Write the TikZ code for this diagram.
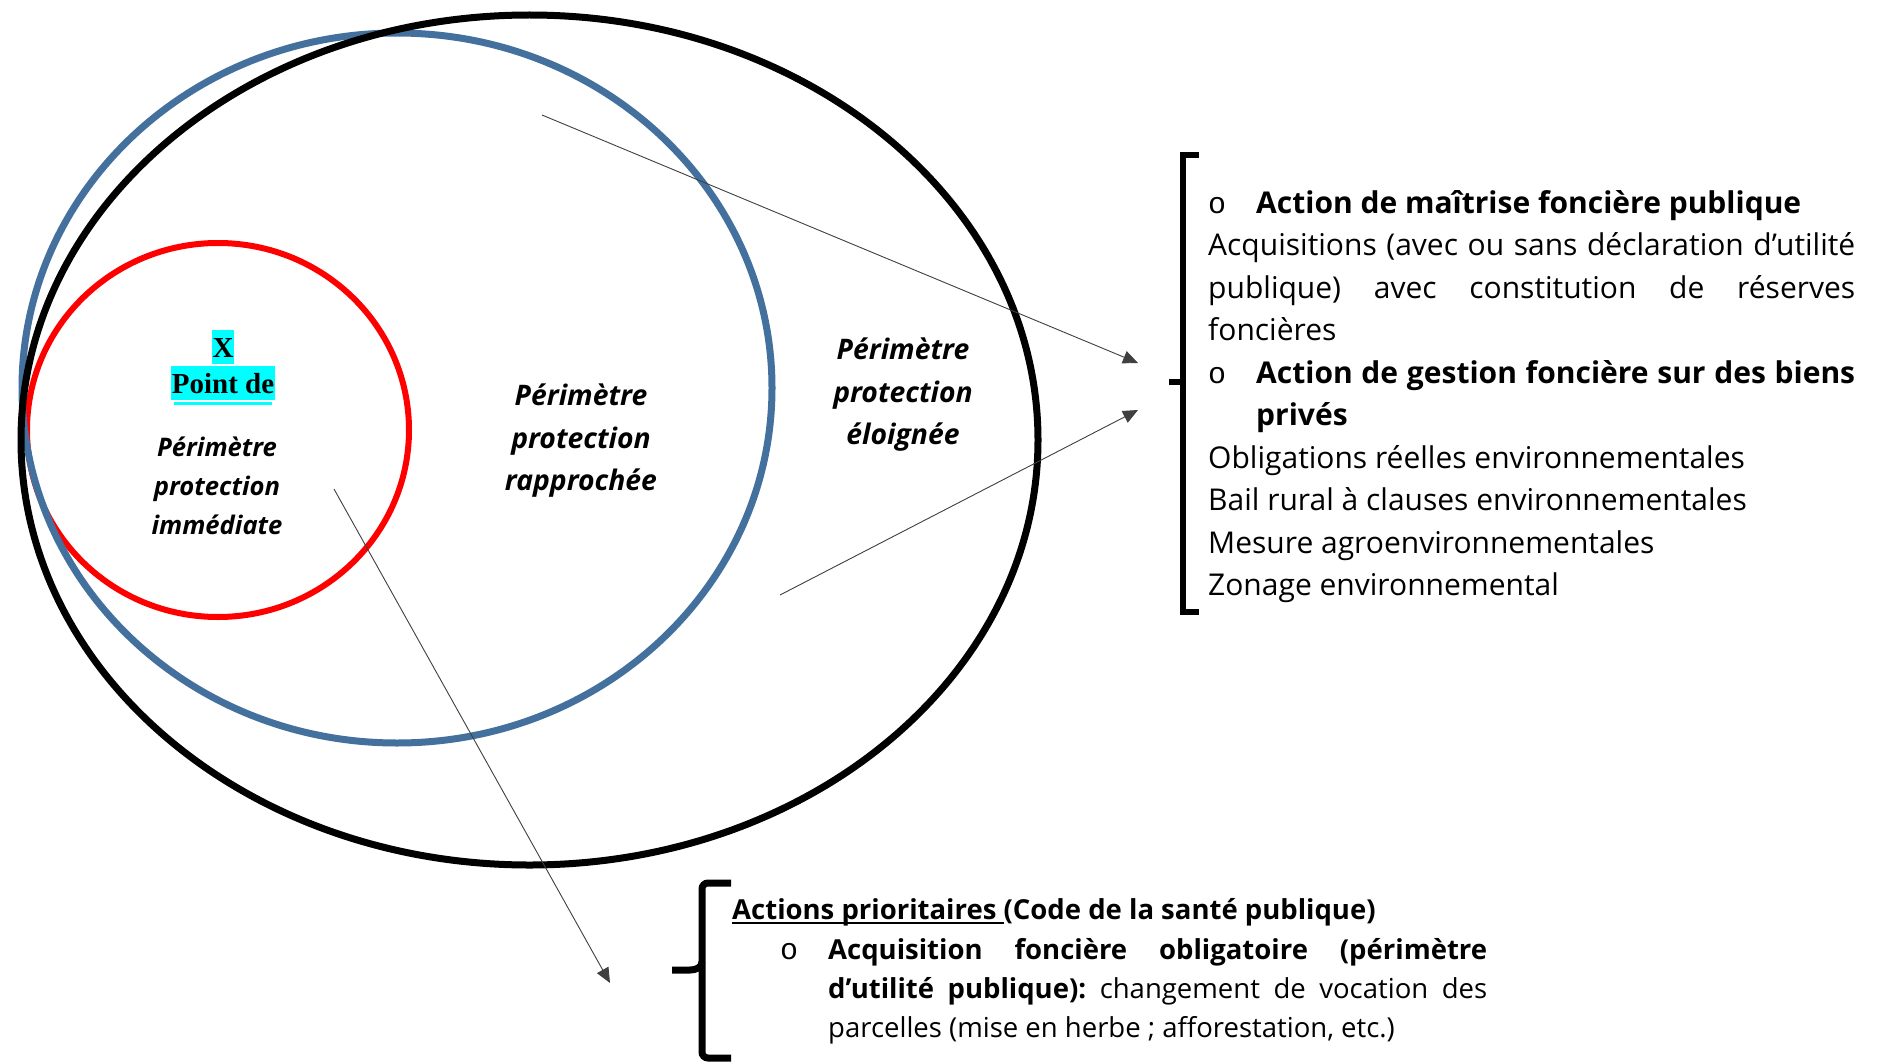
\documentclass[tikz,border=0pt]{standalone}
\usepackage{fontspec}
\setmainfont{Open Sans}
\newfontfamily\timesf{Liberation Serif}
\newfontfamily\monof{Liberation Mono}
\usetikzlibrary{arrows.meta}
\definecolor{ellblue}{RGB}{68,112,157}
\definecolor{hlcyan}{RGB}{0,255,255}
\frenchspacing
\newcommand{\rfont}{\fontsize{30}{42}\selectfont\frenchspacing}
\newcommand{\bfontx}{\fontsize{27.5}{39}\selectfont\frenchspacing}
\newcommand{\lblfont}{\fontsize{28.3}{42}\selectfont\bfseries\itshape}
\newcommand{\lblsmall}{\fontsize{25.6}{38}\selectfont\bfseries\itshape}
\newcommand{\myul}[1]{\setbox0\hbox{#1}\rlap{\rule[-5pt]{\wd0}{2pt}}\box0}
\begin{document}
\begin{tikzpicture}[x=1pt,y=-1pt,
  txt/.style={anchor=base west, inner sep=0pt, font=\rfont},
  btxt/.style={anchor=base west, inner sep=0pt, font=\bfontx},
  bul/.style={anchor=base west, inner sep=0pt, font=\monof\fontsize{30}{30}\selectfont},
  lbl/.style={anchor=base, inner sep=0pt, font=\lblfont},
  lbls/.style={anchor=base, inner sep=0pt, font=\lblsmall},
  hl/.style={anchor=base, fill=hlcyan, inner xsep=1pt, inner ysep=0pt, text height=27pt, text depth=7pt, font=\timesf\bfseries\fontsize{29}{34}\selectfont},
  ell/.style={line width=7pt},
  conn/.style={draw=black!75, line width=0.9pt, -{Triangle[length=15pt,width=13pt]}},
  brk/.style={line width=6.5pt, line cap=butt, line join=miter}
]
\fill[white] (0,0) rectangle (1879,1062);
\useasboundingbox (0,0) rectangle (1879,1062);

% ellipses
\draw[ell, red, line width=6pt] (218,430) ellipse [x radius=191, y radius=187];
\draw[ell, ellblue] (397,388) ellipse [x radius=375, y radius=355];
\draw[ell, black] (529.5,440) ellipse [x radius=508.5, y radius=425];

% point label
\node[hl] (px) at (223,357) {X};
\node[hl] (pd) at (223,393) {Point de};
\draw[hlcyan, line width=3pt] ([xshift=3pt,yshift=-3pt]pd.south west) -- ([xshift=-3pt,yshift=-3pt]pd.south east);

% perimeter labels
\node[lbls] (im1) at (217,456) {Périmètre};
\node[lbls] (im2) at (217,495) {protection};
\node[lbls] (im3) at (217,534) {immédiate};
\node[lbl] (ra1) at (581,405) {Périmètre};
\node[lbl] (ra2) at (581,448) {protection};
\node[lbl] (ra3) at (581,490) {rapprochée};
\node[lbl] (el1) at (903,359) {Périmètre};
\node[lbl] (el2) at (903,402) {protection};
\node[lbl] (el3) at (903,444) {éloignée};

% right bracket
\draw[brk] (1199,155) -- (1183,155) -- (1183,612) -- (1199,612);
\draw[brk] (1169,382) -- (1183,382);

% right text
\node[bul] (r1b) at (1208,213) {o};
\node[txt] (r1) at (1256,213) {\bfseries Action de maîtrise foncière publique};
\node[txt] (r2) at (1208,255.5) {\makebox[647pt][s]{Acquisitions (avec ou sans déclaration d’utilité}};
\node[txt] (r3) at (1208,298) {\makebox[647pt][s]{publique) avec constitution de réserves}};
\node[txt] (r4) at (1208,340.5) {foncières};
\node[bul] (r5b) at (1208,383) {o};
\node[txt] (r5) at (1256,383) {\makebox[599pt][s]{\bfseries Action de gestion foncière sur des biens}};
\node[txt] (r6) at (1256,425.5) {\bfseries privés};
\node[txt] (r7) at (1208,468) {Obligations réelles environnementales};
\node[txt] (r8) at (1208,510.5) {Bail rural à clauses environnementales};
\node[txt] (r9) at (1208,553) {Mesure agroenvironnementales};
\node[txt] (r10) at (1208,595.5) {Zonage environnemental};

% bottom bracket
\draw[brk, line width=7pt, rounded corners=6pt] (731,883) -- (702,883) -- (702,1058) -- (731,1058);
\draw[brk, line width=7pt] (672,970) -- (690,970) to[out=0,in=-90] (702,962);

% bottom text
\node[btxt] (b1) at (732,919) {\bfseries\myul{Actions prioritaires\ }(Code de la santé publique)};
\node[bul] (b2b) at (780,959) {o};
\node[btxt] (b2) at (828,959) {\makebox[659pt][s]{\bfseries Acquisition foncière obligatoire (périmètre}};
\node[btxt] (b3) at (828,998) {\makebox[659pt][s]{\textbf{d’utilité publique):} changement de vocation des}};
\node[btxt] (b4) at (828,1037) {parcelles (mise en herbe ; afforestation, etc.)};

% connectors
\coordinate (a1s) at (542,115);
\coordinate (a1e) at (1138,363);
\coordinate (a2s) at (780,595);
\coordinate (a2e) at (1138,410);
\coordinate (a3s) at (334,489);
\coordinate (a3e) at (610,983);
\draw[conn] (a1s) -- (a1e);
\draw[conn] (a2s) -- (a2e);
\draw[conn] (a3s) -- (a3e);
\end{tikzpicture}
\end{document}
